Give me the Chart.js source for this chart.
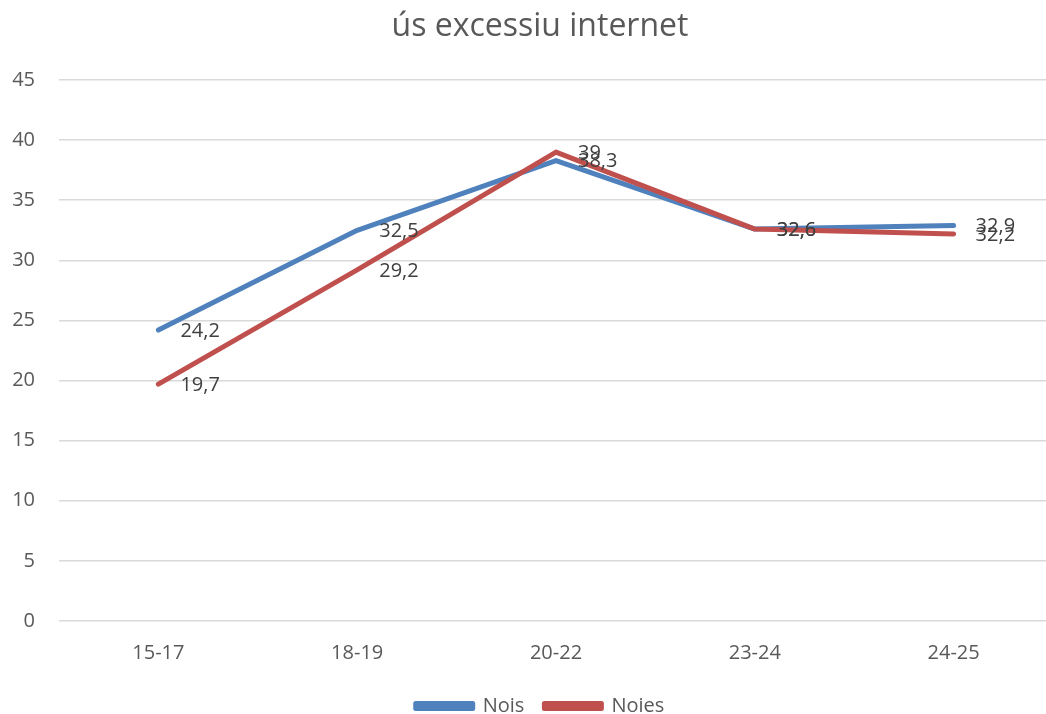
<!DOCTYPE html>
<html>
<head>
<meta charset="utf-8">
<script src="https://cdn.jsdelivr.net/npm/chart.js@4.4.1/dist/chart.umd.min.js"></script>
<style>
  html, body { margin: 0; padding: 0; background: #fff; overflow: hidden; }
  #wrap { width: 1080px; height: 714px; }
</style>
</head>
<body>
<div id="wrap"><canvas id="chart"></canvas></div>
<script>
// --- DATA ---
const categories = ['15-17', '18-19', '20-22', '23-24', '24-25'];
const nois = [24.2, 32.5, 38.3, 32.6, 32.9];
const noies = [19.7, 29.2, 39, 32.6, 32.2];
const yTicks = [0, 5, 10, 15, 20, 25, 30, 35, 40, 45];

const FONT = "'Open Sans', 'Liberation Sans', sans-serif";
const BLUE = '#4F81BD';
const RED = '#C0504D';

// value labels to the right of each point (Excel style)
const valueLabels = {
    id: 'valueLabels',
    afterLayout(chart) {
        // let the y tick labels spill into the left padding
        chart.scales.y._computeLabelArea = () => null;
    },
    afterDatasetsDraw(chart) {
        const ctx = chart.ctx;
        ctx.save();
        ctx.font = '20px ' + FONT;
        ctx.fillStyle = '#404040';
        ctx.textAlign = 'left';
        ctx.textBaseline = 'middle';
        chart.data.datasets.forEach((ds, i) => {
            const meta = chart.getDatasetMeta(i);
            meta.data.forEach((pt, j) => {
                const txt = String(ds.data[j]).replace('.', ',');
                ctx.fillText(txt, pt.x + 22, pt.y + 1);
            });
        });
        ctx.restore();
    }
};

new Chart(document.getElementById('chart'), {
    type: 'line',
    data: {
        labels: categories,
        datasets: [
            {
                label: 'Nois',
                data: nois,
                borderColor: BLUE,
                backgroundColor: BLUE,
                borderWidth: 5,
                pointRadius: 0,
                tension: 0,
                borderJoinStyle: 'round',
                borderCapStyle: 'round',
                order: 1
            },
            {
                label: 'Noies',
                data: noies,
                borderColor: RED,
                backgroundColor: RED,
                borderWidth: 5,
                pointRadius: 0,
                tension: 0,
                borderJoinStyle: 'round',
                borderCapStyle: 'round',
                order: 0
            }
        ]
    },
    options: {
        responsive: true,
        maintainAspectRatio: false,
        animation: false,
        layout: { padding: { top: 0, bottom: -12, left: 27, right: 27 } },
        plugins: {
            title: {
                display: true,
                text: 'ús excessiu internet',
                color: '#595959',
                font: { family: FONT, size: 32, weight: 'normal' },
                padding: { top: 8, bottom: 33.6 }
            },
            legend: {
                position: 'bottom',
                labels: {
                    color: '#595959',
                    font: { family: FONT, size: 20 },
                    boxWidth: 57,
                    boxHeight: 5,
                    padding: 20,
                    sort: (a, b) => a.datasetIndex - b.datasetIndex
                }
            },
            tooltip: { enabled: false }
        },
        scales: {
            x: {
                offset: true,
                afterFit: (scale) => { scale.height = 55; },
                grid: { display: false, drawTicks: false },
                border: { display: false },
                ticks: { color: '#595959', font: { family: FONT, size: 20 }, padding: 20 }
            },
            y: {
                min: 0,
                max: 45,
                afterBuildTicks: (scale) => { scale.ticks = yTicks.map(v => ({ value: v })); },
                afterFit: (scale) => { scale.width = 32; },
                grid: { color: '#D9D9D9', lineWidth: 1.5, drawTicks: false },
                border: { display: false },
                ticks: { color: '#595959', font: { family: FONT, size: 20 }, padding: 24 }
            }
        }
    },
    plugins: [valueLabels]
});
</script>
</body>
</html>
